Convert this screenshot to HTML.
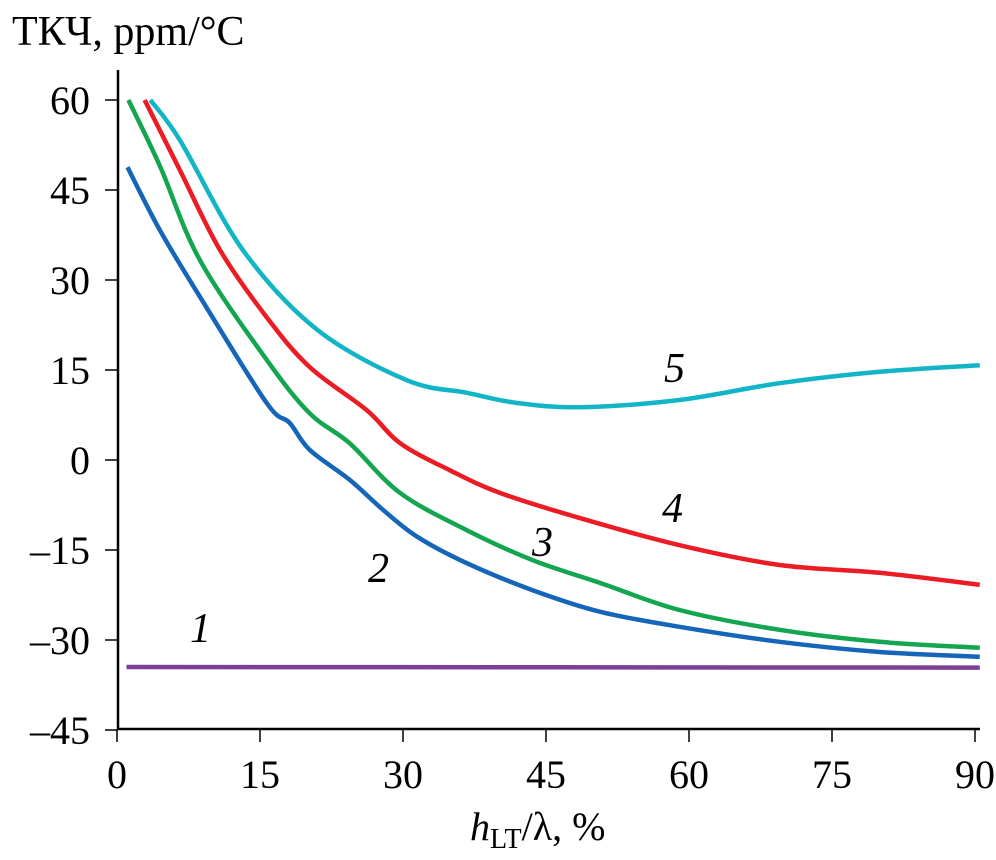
<!DOCTYPE html>
<html><head><meta charset="utf-8">
<style>
html,body{margin:0;padding:0;background:#fff;}
svg{display:block;font-family:"Liberation Serif",serif;}
</style></head>
<body>
<svg id="chart" width="996" height="860" viewBox="0 0 996 860" font-family="'Liberation Serif', serif">
<text x="12" y="45" font-size="42" fill="#000">ТКЧ, ppm/°C</text>
<g id="axes"></g>
<g id="series"></g>
<text x="470" y="840" font-size="40" fill="#000"><tspan font-style="italic">h</tspan><tspan font-size="28" dy="8">LT</tspan><tspan dy="-8">/λ, %</tspan></text>
<g font-size="42" font-style="italic" fill="#000">
<text x="190" y="642">1</text>
<text x="368" y="582">2</text>
<text x="532" y="556">3</text>
<text x="662" y="522">4</text>
<text x="664" y="382">5</text>
</g>
</svg>
<script>
const xTicks=[0,15,30,45,60,75,90];
const yTicks=[60,45,30,15,0,-15,-30,-45];
const yTickLabels=["60","45","30","15","0","\u201315","\u201330","\u201345"];
const s1x=[1,90.5];
const s1y=[-34.5,-34.6];
const s2x=[1.1,4.5,8.7,15.7,18.1,20.2,24.4,27.9,31.5,36.7,43.6,50.7,59,69.5,80,90.5];
const s2y=[48.8,38.3,27.2,9.5,6.2,1.7,-3.3,-8.3,-12.8,-17.2,-21.7,-25.3,-27.8,-30.3,-32,-32.8];
const s3x=[1.2,4.5,8.7,15.7,20.2,24.4,29.7,36.7,43.6,50.7,59,69.5,80,90.5];
const s3y=[60,49,33.3,16.7,7.8,2.8,-5.5,-11.7,-16.7,-20.5,-25,-28.3,-30.3,-31.3];
const s4x=[2.9,6.6,10.8,15.7,20.2,26.2,29.7,34.9,40.2,48.6,59,69.5,80,90.5];
const s4y=[60,48.3,35,23.8,15.5,8.3,2.8,-1.7,-5.5,-9.7,-14.2,-17.5,-18.8,-20.8];
const s5x=[3.5,6.6,13.2,21,30.4,36.7,42,48.6,59,69.5,80,90.5];
const s5y=[60,53.3,35,21.7,13.3,11.2,9.5,8.8,10,12.8,14.7,15.8];
const colors=["#7b3f98","#1565b8","#13a54f","#ec1c24","#12b5c5"];

const X=v=>117+v*(858/90);
const Y=v=>460-v*6;
const NS="http://www.w3.org/2000/svg";
const axes=document.getElementById('axes');
function mk(tag,attrs,parent){const e=document.createElementNS(NS,tag);for(const k in attrs)e.setAttribute(k,attrs[k]);parent.appendChild(e);return e;}

let yl=mk('line',{x1:118,y1:70,x2:118,y2:730,stroke:'#000','stroke-width':2.5},axes);


let xl=mk('line',{x1:117,y1:729,x2:980,y2:729,stroke:'#000','stroke-width':2.5},axes);


xTicks.forEach((t,i)=>{
  const tk=mk('line',{x1:X(t),y1:729,x2:X(t),y2:742,stroke:'#000','stroke-width':1.5},axes);
  
  
  const tx=mk('text',{x:X(t),y:788,'font-size':40,'text-anchor':'middle',fill:'#000'},axes);
  tx.textContent=String(t);
  
  
});
yTicks.forEach((t,i)=>{
  const tk=mk('line',{x1:105,y1:Y(t),x2:118,y2:Y(t),stroke:'#000','stroke-width':1.5},axes);
  
  
  const tx=mk('text',{x:90,y:Y(t)+14,'font-size':40,'text-anchor':'end',fill:'#000'},axes);
  tx.textContent=yTickLabels[i];
  
  
});
const series=[[s1x,s1y],[s2x,s2y],[s3x,s3y],[s4x,s4y],[s5x,s5y]];
const sg=document.getElementById('series');
series.forEach((s,i)=>{
  const pts=s[0].map((x,j)=>[X(x),Y(s[1][j])]);
  let d='M'+pts[0][0]+','+pts[0][1];
  for(let j=1;j<pts.length;j++){
    const p0=pts[Math.max(0,j-2)],p1=pts[j-1],p2=pts[j],p3=pts[Math.min(pts.length-1,j+1)];
    const c1x=p1[0]+(p2[0]-p0[0])/6,c1y=p1[1]+(p2[1]-p0[1])/6;
    const c2x=p2[0]-(p3[0]-p1[0])/6,c2y=p2[1]-(p3[1]-p1[1])/6;
    d+=' C'+c1x+','+c1y+' '+c2x+','+c2y+' '+p2[0]+','+p2[1];
  }
  const p=mk('path',{d:d,fill:'none',stroke:colors[i],'stroke-width':4.5,'stroke-linejoin':'round'},sg);
  
  
});
</script>
</body></html>
